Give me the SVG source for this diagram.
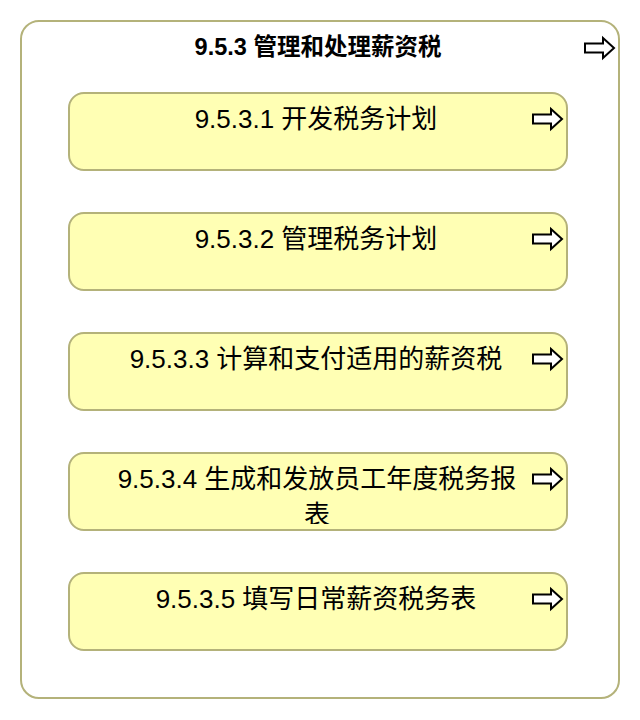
<svg xmlns="http://www.w3.org/2000/svg" width="640" height="720" viewBox="0 0 640 720">
<style>
.outer{fill:#ffffff;stroke:#b4b27a;stroke-width:2}
.box{fill:#ffffb4;stroke:#b4b27a;stroke-width:2}
.t{font-family:"Liberation Sans","Noto Sans CJK SC",sans-serif;font-size:26px;fill:#000;text-anchor:middle}
.title{font-family:"Liberation Sans","Noto Sans CJK SC",sans-serif;font-size:23.5px;font-weight:bold;fill:#000;text-anchor:middle}
.arr{fill:#fff;stroke:#000;stroke-width:2;stroke-linejoin:miter}
</style>
<defs>
<polygon id="arrow" points="0,-4.5 18,-4.5 18,-10 29,0 18,10 18,4.5 0,4.5"/>
<clipPath id="c4"><rect x="69" y="453" width="498" height="71"/></clipPath>
</defs>
<g id="group-953">
<rect class="outer" x="21" y="21" width="598" height="677" rx="18"/>
<text class="title" x="318" y="55">9.5.3 管理和处理薪资税</text>
<use href="#arrow" class="arr" x="585" y="48"/>
</g>
<g id="node-9531">
<rect class="box" x="69" y="93" width="498" height="77" rx="15"/>
<text class="t" x="316" y="128">9.5.3.1 开发税务计划</text>
<use href="#arrow" class="arr" x="533" y="119"/>
</g>
<g id="node-9532">
<rect class="box" x="69" y="213" width="498" height="77" rx="15"/>
<text class="t" x="316" y="248">9.5.3.2 管理税务计划</text>
<use href="#arrow" class="arr" x="533" y="239"/>
</g>
<g id="node-9533">
<rect class="box" x="69" y="333" width="498" height="77" rx="15"/>
<text class="t" x="316" y="368">9.5.3.3 计算和支付适用的薪资税</text>
<use href="#arrow" class="arr" x="533" y="359"/>
</g>
<g id="node-9534">
<rect class="box" x="69" y="453" width="498" height="77" rx="15"/>
<g clip-path="url(#c4)">
<text class="t" x="317" y="488">9.5.3.4 生成和发放员工年度税务报</text>
<text class="t" x="317" y="524">表</text>
</g>
<use href="#arrow" class="arr" x="533" y="479"/>
</g>
<g id="node-9535">
<rect class="box" x="69" y="573" width="498" height="77" rx="15"/>
<text class="t" x="316" y="608">9.5.3.5 填写日常薪资税务表</text>
<use href="#arrow" class="arr" x="533" y="599"/>
</g>
<g id="connectors"></g>
</svg>
